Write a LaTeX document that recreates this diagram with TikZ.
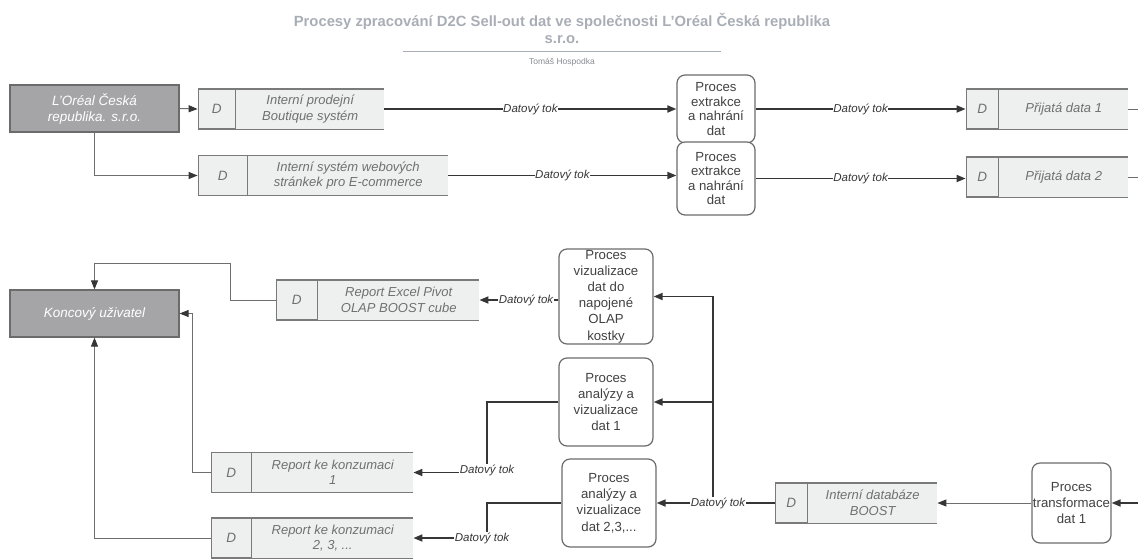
\documentclass[tikz,border=0pt]{standalone}
\usepackage{fontspec}
\setmainfont{Liberation Sans}
\usepackage{tikz}
\usetikzlibrary{positioning,arrows.meta}

\definecolor{darkbox}{HTML}{A5A5A8}
\definecolor{boxline}{HTML}{6B6B6B}
\definecolor{storefill}{HTML}{EEEFEF}
\definecolor{storeline}{HTML}{7A7A7A}
\definecolor{storetext}{HTML}{707070}
\definecolor{proctext}{HTML}{424242}
\definecolor{flowline}{HTML}{363636}
\definecolor{thinline}{HTML}{6E6E6E}
\definecolor{titlegray}{HTML}{A9AEB6}

\begin{document}
\begin{tikzpicture}[x=1pt, y=-1pt,
  entity/.style={draw=boxline, line width=1.2pt, fill=darkbox, minimum width=169pt, minimum height=47pt, align=center, text=white, font=\fontsize{13.5}{16}\selectfont\itshape},
  dcell/.style={draw=storeline, line width=1.4pt, fill=storefill, minimum height=40pt, inner sep=0pt, text=storetext, font=\fontsize{13.5}{15}\selectfont\itshape},
  storeedge/.style={draw=storeline, line width=1.4pt},
  store/.style={fill=storefill, minimum height=40pt, inner sep=0pt, anchor=west, align=center, text=storetext, font=\fontsize{13}{15.5}\selectfont\itshape,
    append after command={(\tikzlastnode.north west) edge[storeedge] (\tikzlastnode.north east) (\tikzlastnode.south west) edge[storeedge] (\tikzlastnode.south east)}},
  proc/.style={draw=boxline, line width=1.2pt, fill=white, rounded corners=8pt, align=center, inner sep=0pt, text=proctext, font=\fontsize{13.2}{16.2}\selectfont},
  flow/.style={draw=flowline, line width=1.7pt, -{Triangle[length=9pt,width=7pt,color=flowline]}},
  link/.style={draw=thinline, line width=1pt, -{Triangle[length=9pt,width=7pt,color=flowline]}},
  lbl/.style={fill=white, inner sep=0.6pt, text=flowline, font=\fontsize{11.5}{13}\selectfont\itshape}
]
\useasboundingbox (0,0) rectangle (1138,558);

% Title
\node[align=center, text=titlegray, font=\fontsize{14.8}{17}\selectfont\bfseries] (title) at (562,28.5) {Procesy zpracování D2C Sell-out dat ve společnosti L'Oréal Česká republika\\s.r.o.};
\coordinate (ruleL) at (403,51);
\coordinate (ruleR) at (721,51);
\draw[titlegray, line width=1pt] (ruleL) -- (ruleR);
\node[text=titlegray!80!black, font=\fontsize{8.5}{10}\selectfont] (author) at (562,62) {Tomáš Hospodka};

% Sources
\node[entity] (loreal) at (94.5,108.5) {L'Oréal Česká\\republika. s.r.o.};
\node[store, minimum width=148pt] (boutique) at (236,109) {Interní prodejní\\Boutique systém};
\node[dcell, minimum width=37pt, left=0pt of boutique] (boutiqueD) {D};
\node[store, minimum width=200pt] (web) at (248,175.5) {Interní systém webových\\stránkek pro E-commerce};
\node[dcell, minimum width=49pt, left=0pt of web] (webD) {D};

% Extraction
\node[proc, minimum width=78pt, minimum height=68pt, font=\fontsize{13.2}{14.5}\selectfont] (extr1) at (716,109) {Proces\\extrakce\\a nahrání\\dat};
\node[proc, minimum width=78pt, minimum height=73pt, font=\fontsize{13.2}{14.5}\selectfont] (extr2) at (716,178.5) {Proces\\extrakce\\a nahrání\\dat};

% Received data
\node[store, minimum width=129pt] (prijata1) at (999,109) {Přijatá data 1};
\node[dcell, minimum width=32pt, left=0pt of prijata1] (prijata1D) {D};
\node[store, minimum width=129pt] (prijata2) at (999,177) {Přijatá data 2};
\node[dcell, minimum width=32pt, left=0pt of prijata2] (prijata2D) {D};
\coordinate (exit1) at (1138,109);
\coordinate (exit2) at (1138,177);

% Top flows
\draw[link] (loreal.east) -- (boutiqueD.west);
\draw[link] (loreal.south) |- (webD.west);
\draw[flow] (boutique.east) -- node[lbl]{Datový tok} (boutique.east -| extr1.west);
\draw[flow] (web.east) -- node[lbl]{Datový tok} (web.east -| extr2.west);
\draw[flow] (extr1.east) -- node[lbl]{Datový tok} (prijata1D.west);
\draw[flow] (extr2.east) -- node[lbl]{Datový tok} (extr2.east -| prijata2D.west);
\draw[thinline, line width=1pt] (prijata1.east) -- (exit1);
\draw[thinline, line width=1pt] (prijata2.east) -- (exit2);

% End user and reports
\node[entity] (koncovy) at (94.5,313.5) {Koncový uživatel};
\node[store, minimum width=161pt] (excel) at (318,300) {Report Excel Pivot\\OLAP BOOST cube};
\node[dcell, minimum width=41pt, left=0pt of excel] (excelD) {D};
\node[store, minimum width=161pt] (report1) at (252,472.5) {Report ke konzumaci\\1};
\node[dcell, minimum width=40pt, left=0pt of report1] (report1D) {D};
\node[store, minimum width=161pt] (report2) at (252,538) {Report ke konzumaci\\2, 3, ...};
\node[dcell, minimum width=40pt, left=0pt of report2] (report2D) {D};

% Analysis processes
\node[proc, minimum width=94pt, minimum height=95pt] (olap) at (606,296.5) {Proces\\vizualizace\\dat do\\napojené\\OLAP\\kostky};
\node[proc, minimum width=94pt, minimum height=88pt] (anal1) at (606,402) {Proces\\analýzy a\\vizualizace\\dat 1};
\node[proc, minimum width=94pt, minimum height=88pt] (anal2) at (609,503) {Proces\\analýzy a\\vizualizace\\dat 2,3,...};

% BOOST
\node[store, minimum width=129pt] (boost) at (808,503) {Interní databáze\\BOOST};
\node[dcell, minimum width=32pt, left=0pt of boost] (boostD) {D};
\node[proc, minimum width=79pt, minimum height=80pt] (transf) at (1071.5,503) {Proces\\transformace\\dat 1};
\coordinate (entry) at (1138,503);

% Bottom flows
\coordinate (split) at (713,503);
\draw[flow] (split) |- (olap.east);
\draw[flow] (split) |- (anal1.east);
\draw[flow] (boostD.west) -- node[lbl, pos=0.48]{Datový tok} (anal2.east);
\draw[flow] (olap.west |- excel.east) -- node[lbl, pos=0.41]{Datový tok} (excel.east);
\coordinate (bend1) at (487,472.5);
\draw[flow] (anal1.west) -| (bend1) node[lbl, yshift=2pt]{Datový tok} -- (report1.east);
\coordinate (bend2) at (487,538);
\draw[flow] (anal2.west) -| (bend2) node[lbl, xshift=-5pt]{Datový tok} -- (report2.east);
\draw[link] (transf.west) -- (boost.east);
\draw[flow] (entry) -- (transf.east);

% To end user
\coordinate (kA) at (230,263);
\draw[link] (excelD.west) -| (kA) -| (koncovy.north);
\coordinate (kB) at (192,313.5);
\draw[link] (report1D.west) -| (kB) -- (koncovy.east);
\draw[link] (report2D.west) -| (koncovy.south);
\end{tikzpicture}
\end{document}
